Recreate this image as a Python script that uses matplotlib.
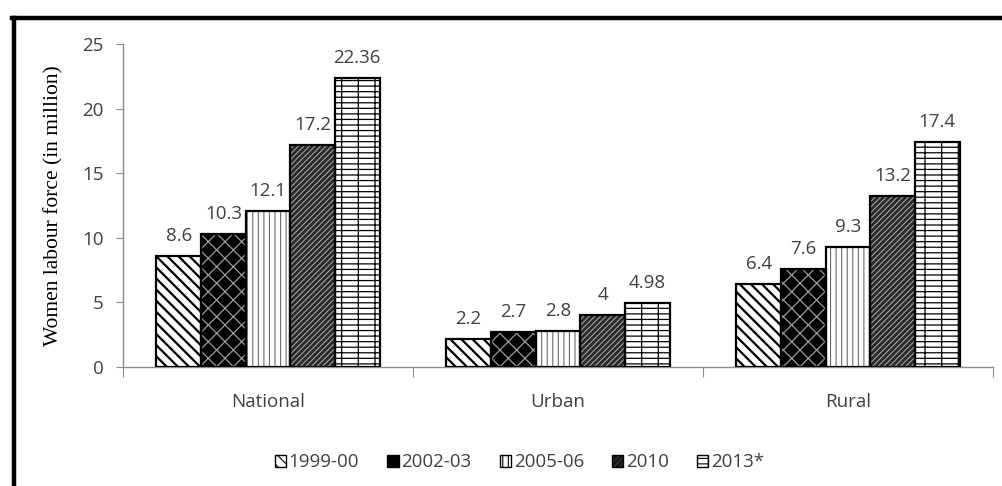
import matplotlib
matplotlib.use("Agg")
import matplotlib.pyplot as plt
import numpy as np
from matplotlib.patches import Patch
from matplotlib.lines import Line2D

categories = ["National", "Urban", "Rural"]
series = ["1999-00", "2002-03", "2005-06", "2010", "2013*"]
values = {
    "1999-00": [8.6, 2.2, 6.4],
    "2002-03": [10.3, 2.7, 7.6],
    "2005-06": [12.1, 2.8, 9.3],
    "2010": [17.2, 4, 13.2],
    "2013*": [22.36, 4.98, 17.4],
}
labels = {
    "1999-00": ["8.6", "2.2", "6.4"],
    "2002-03": ["10.3", "2.7", "7.6"],
    "2005-06": ["12.1", "2.8", "9.3"],
    "2010": ["17.2", "4", "13.2"],
    "2013*": ["22.36", "4.98", "17.4"],
}
yticks = [0, 5, 10, 15, 20, 25]

# style: (facecolor, hatch, hatchcolor, hatch linewidth)
styles = {
    "1999-00": ("white", "\\\\\\", "black", 1.6),
    "2002-03": ("black", "xx", "#9a9a9a", 0.9),
    "2005-06": ("white", "|||", "#6a6a6a", 0.8),
    "2010": ("#2a2a2a", "//////", "#b0b0b0", 0.7),
    "2013*": ("white", "---|", "black", 0.9),
}

fig = plt.figure(figsize=(10.03, 4.86), dpi=100)
ax = fig.add_axes([0.1226, 0.2449, 0.8674, 0.6646])

x = np.arange(len(categories))
w = 0.154
n = len(series)
txtcol = "#404040"
tfont = ["Open Sans", "DejaVu Sans"]
fs = 13.5
for i, s in enumerate(series):
    fc, h, hc, hlw = styles[s]
    plt.rcParams["hatch.linewidth"] = hlw
    xs = x + (i - (n - 1) / 2) * w
    ax.bar(xs, values[s], w, color=fc, hatch=h, edgecolor=hc, linewidth=0, zorder=2)
    ax.bar(xs, values[s], w, fill=False, edgecolor="black", linewidth=1.6, zorder=3)
    for xi, v, lab in zip(xs, values[s], labels[s]):
        ax.text(xi, v + 0.85, lab, ha="center", va="bottom", fontsize=fs,
                color=txtcol, family=tfont)

ax.set_xlim(-0.5, 2.5)
ax.set_ylim(0, 25)
ax.set_yticks(yticks)
ax.set_yticklabels([str(t) for t in yticks], family=tfont, fontsize=fs, color=txtcol)
ax.set_xticks([-0.5, 0.5, 1.5, 2.5])
ax.set_xticklabels([])
ax.set_xticks(x, minor=True)
ax.set_xticklabels(categories, minor=True, family=tfont, fontsize=fs, color=txtcol)
ax.tick_params(axis="x", which="major", length=7, color="#8c8c8c", direction="out")
ax.tick_params(axis="x", which="minor", length=0, pad=19)
ax.tick_params(axis="y", length=5, color="#8c8c8c", pad=9)
for sp in ["top", "right"]:
    ax.spines[sp].set_visible(False)
for sp in ["left", "bottom"]:
    ax.spines[sp].set_color("#8c8c8c")
    ax.spines[sp].set_linewidth(1)
ax.set_ylabel("Women labour force (in million)", family=["Liberation Serif", "DejaVu Serif"],
              fontsize=15.5, color="black", labelpad=13)

plt.rcParams["hatch.linewidth"] = 0.8
handles = []
for s in series:
    fc, h, hc, hlw = styles[s]
    handles.append(Patch(facecolor=fc, hatch=h, edgecolor="black", linewidth=1))
leg = fig.legend(handles, series, loc="center", bbox_to_anchor=(0.518, 0.049), ncol=5,
                 frameon=False, handlelength=0.6, handleheight=0.6, handletextpad=0.15,
                 columnspacing=1.5, prop={"family": tfont, "size": fs})
for t in leg.get_texts():
    t.set_color(txtcol)

# outer frame (left and top thick lines)
fig.add_artist(Line2D([0.0135, 0.0135], [0.0, 0.9625], transform=fig.transFigure,
                      color="black", linewidth=3.2))
fig.add_artist(Line2D([0.012, 1.0], [0.9625, 0.9625], transform=fig.transFigure,
                      color="black", linewidth=3.2))

fig.savefig("out.png", dpi=100)
